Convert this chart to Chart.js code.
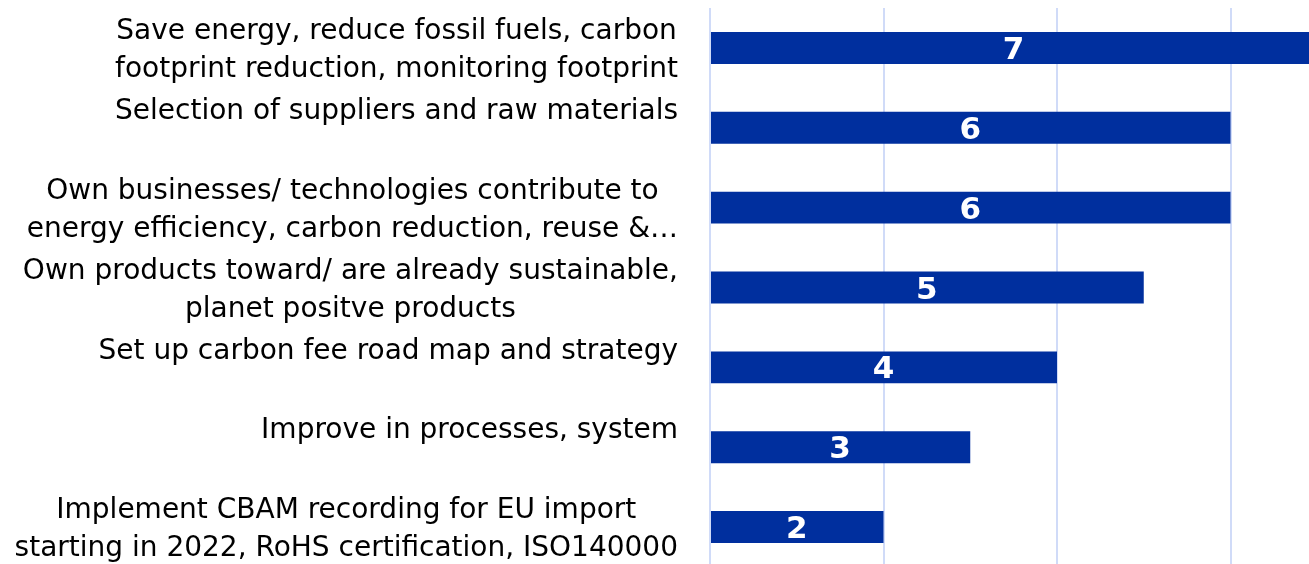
<!DOCTYPE html>
<html>
<head>
<meta charset="utf-8">
<script src="https://cdn.jsdelivr.net/npm/chart.js@4"></script>
<style>
html, body { margin: 0; padding: 0; overflow: hidden; background: #fff; }
#wrap { position: relative; width: 1420px; height: 567px; }
</style>
</head>
<body>
<div id="wrap"><canvas id="chart"></canvas></div>
<script>
// measures taken, one entry per row (top to bottom)
const measures = [
	["Save energy, reduce fossil fuels, carbon", "footprint reduction, monitoring footprint"],
	["Selection of suppliers and raw materials", ""],
	["Own businesses/ technologies contribute to", "energy efficiency, carbon reduction, reuse &\u2026"],
	["Own products toward/ are already sustainable,", "planet positve products"],
	["Set up carbon fee road map and strategy", ""],
	["Improve in processes, system", ""],
	["Implement CBAM recording for EU import", "starting in 2022, RoHS certification, ISO140000"]
];
const counts = [7, 6, 6, 5, 4, 3, 2];
const xMin = 0;
const xMax = 8;
const xStep = 2;

const barColor = '#002f9e';
const gridColor = '#d0dbf8';
const labelFont = '"DejaVu Sans", sans-serif';

// category text, each line centred inside its block, block right-aligned beside the axis
const rowLabels = {
	id: 'rowLabels',
	afterDraw(chart) {
		const ctx = chart.ctx;
		const y = chart.scales.y;
		const right = chart.chartArea.left - 32;
		const lineH = 38;
		ctx.save();
		ctx.font = '28px ' + labelFont;
		ctx.fillStyle = '#000';
		ctx.textAlign = 'center';
		ctx.textBaseline = 'middle';
		measures.forEach((lines, i) => {
			const cy = y.getPixelForValue(i) + 3;
			const widest = Math.max(...lines.map(l => ctx.measureText(l).width));
			const cx = right - widest / 2;
			lines.forEach((l, j) => {
				ctx.fillText(l, cx, cy + (j - (lines.length - 1) / 2) * lineH);
			});
		});
		ctx.restore();
	}
};

// bold count written in the middle of each bar
const barValues = {
	id: 'barValues',
	afterDatasetsDraw(chart) {
		const ctx = chart.ctx;
		const x = chart.scales.x;
		const meta = chart.getDatasetMeta(0);
		ctx.save();
		ctx.font = 'bold 31px ' + labelFont;
		ctx.fillStyle = '#fff';
		ctx.textAlign = 'center';
		ctx.textBaseline = 'middle';
		meta.data.forEach((bar, i) => {
			ctx.fillText(String(counts[i]), x.getPixelForValue(counts[i] / 2), bar.y + 3);
		});
		ctx.restore();
	}
};

new Chart(document.getElementById('chart'), {
	type: 'bar',
	data: {
		labels: measures,
		datasets: [{
			data: counts,
			backgroundColor: barColor,
			barPercentage: 0.4,
			categoryPercentage: 1
		}]
	},
	options: {
		indexAxis: 'y',
		responsive: true,
		maintainAspectRatio: false,
		animation: false,
		layout: { padding: { left: 702, right: 16, top: 8, bottom: 0 } },
		plugins: { legend: { display: false }, tooltip: { enabled: false } },
		scales: {
			x: {
				min: xMin, max: xMax,
				ticks: { display: false, stepSize: xStep },
				grid: { color: gridColor, lineWidth: 2, drawTicks: false },
				border: { display: false }
			},
			y: {
				ticks: { display: false },
				grid: { display: false },
				border: { display: false }
			}
		}
	},
	plugins: [rowLabels, barValues]
});
</script>
</body>
</html>
